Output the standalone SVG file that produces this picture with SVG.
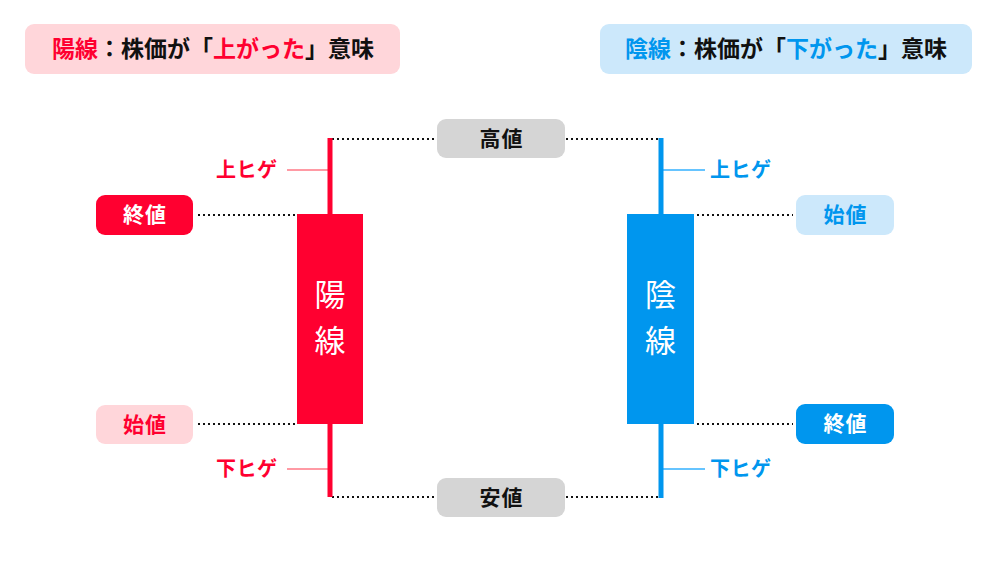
<svg xmlns="http://www.w3.org/2000/svg" width="1000" height="563" viewBox="0 0 1000 563">
<style>
text{font-family:"Noto Sans CJK JP","Noto Sans CJK SC",sans-serif;font-weight:bold}
.red{fill:#ff0030}
.blue{fill:#0096ee}
.blk{fill:#111}
.dot{stroke:#111;stroke-width:2.2;stroke-dasharray:2 3;fill:none}
.lbl{font-size:21px;letter-spacing:1px}
.hige{font-size:20px;letter-spacing:0.5px}
.hdr{font-size:23px}
.body{font-size:31px;font-weight:normal;fill:#fff}
</style>
<rect width="1000" height="563" fill="#fff"/>
<g id="header-yousen">
<rect x="25" y="24" width="375" height="50" rx="9" fill="#ffd6da"/>
<text x="213" y="57" text-anchor="middle" class="hdr"><tspan class="red">陽線</tspan><tspan class="blk">：株価が「</tspan><tspan class="red">上がった</tspan><tspan class="blk">」意味</tspan></text>
</g>
<g id="header-insen">
<rect x="600" y="24" width="372" height="50" rx="9" fill="#cce8fb"/>
<text x="786" y="57" text-anchor="middle" class="hdr"><tspan class="blue">陰線</tspan><tspan class="blk">：株価が「</tspan><tspan class="blue">下がった</tspan><tspan class="blk">」意味</tspan></text>
</g>
<g id="connectors">
<line class="dot" x1="332" y1="139" x2="437" y2="139"/>
<line class="dot" x1="566" y1="139" x2="660" y2="139"/>
<line class="dot" x1="332" y1="497" x2="437" y2="497"/>
<line class="dot" x1="566" y1="497" x2="660" y2="497"/>
<line class="dot" x1="198" y1="215" x2="296" y2="215"/>
<line class="dot" x1="198" y1="424" x2="296" y2="424"/>
<line class="dot" x1="697" y1="215" x2="793" y2="215"/>
<line class="dot" x1="697" y1="424" x2="793" y2="424"/>
<line x1="287" y1="170" x2="328" y2="170" stroke="#ff9aa4" stroke-width="2"/>
<line x1="287" y1="469" x2="328" y2="469" stroke="#ff9aa4" stroke-width="2"/>
<line x1="663" y1="170" x2="705" y2="170" stroke="#66c4ff" stroke-width="2"/>
<line x1="663" y1="469" x2="705" y2="469" stroke="#66c4ff" stroke-width="2"/>
</g>
<g id="candle-yousen">
<rect x="327.5" y="138" width="5" height="359" fill="#ff0030"/>
<rect x="297" y="214" width="66" height="210" fill="#ff0030"/>
<text x="330" y="306" text-anchor="middle" class="body">陽</text>
<text x="330" y="352" text-anchor="middle" class="body">線</text>
</g>
<g id="candle-insen">
<rect x="658.5" y="138" width="5" height="360" fill="#0096ee"/>
<rect x="627" y="214" width="67" height="210" fill="#0096ee"/>
<text x="660.5" y="306" text-anchor="middle" class="body">陰</text>
<text x="660.5" y="352" text-anchor="middle" class="body">線</text>
</g>
<g id="takane">
<rect x="437" y="119" width="128" height="39" rx="9" fill="#d5d5d5"/>
<text x="501.5" y="146" text-anchor="middle" class="lbl blk">高値</text>
</g>
<g id="yasune">
<rect x="437" y="478" width="128" height="39" rx="9" fill="#d5d5d5"/>
<text x="501.5" y="505" text-anchor="middle" class="lbl blk">安値</text>
</g>
<g id="red-owarine">
<rect x="96" y="195" width="97" height="40" rx="9" fill="#ff0030"/>
<text x="145" y="222" text-anchor="middle" class="lbl" fill="#fff">終値</text>
</g>
<g id="red-hajimene">
<rect x="96" y="405" width="97" height="39" rx="9" fill="#ffd6da"/>
<text x="145" y="432" text-anchor="middle" class="lbl red">始値</text>
</g>
<g id="blue-hajimene">
<rect x="796" y="195" width="98" height="40" rx="9" fill="#cce8fb"/>
<text x="845.5" y="222" text-anchor="middle" class="lbl blue">始値</text>
</g>
<g id="blue-owarine">
<rect x="796" y="404" width="98" height="40" rx="9" fill="#0096ee"/>
<text x="845.5" y="431" text-anchor="middle" class="lbl" fill="#fff">終値</text>
</g>
<g id="red-uehige"><text x="277.5" y="177" text-anchor="end" class="hige red">上ヒゲ</text></g>
<g id="red-shitahige"><text x="277.5" y="476" text-anchor="end" class="hige red">下ヒゲ</text></g>
<g id="blue-uehige"><text x="710" y="177" class="hige blue">上ヒゲ</text></g>
<g id="blue-shitahige"><text x="710" y="476" class="hige blue">下ヒゲ</text></g>
</svg>
